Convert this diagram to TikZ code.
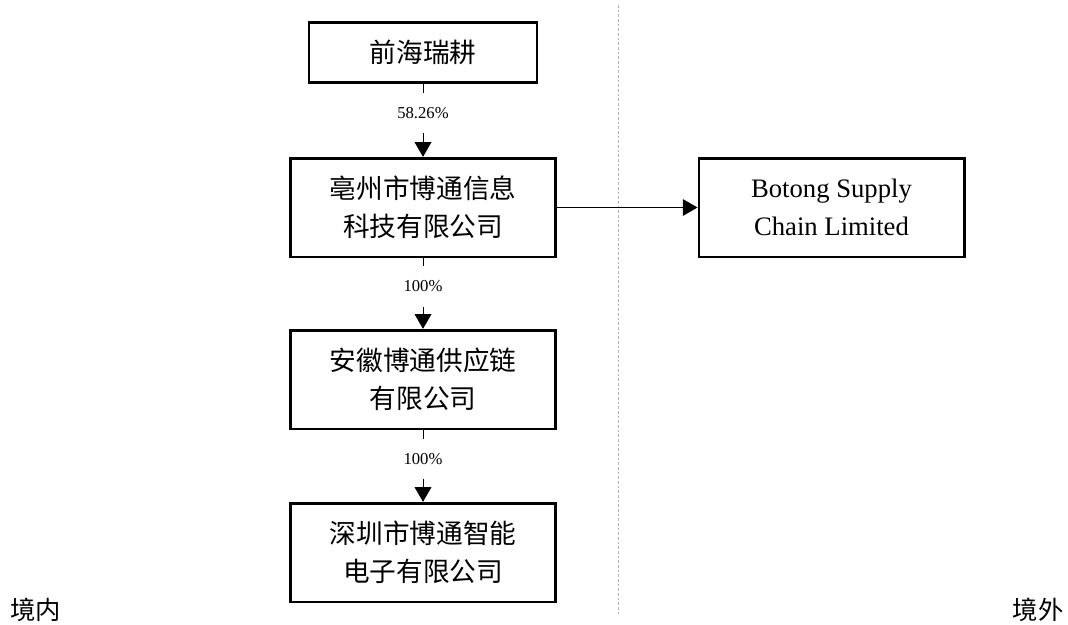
\documentclass[tikz,border=0pt]{standalone}
\usepackage{fontspec}
\setmainfont{Liberation Serif}
\newfontfamily\cjk{Noto Sans CJK SC}
\usetikzlibrary{positioning}
\usetikzlibrary{arrows.meta}
\tikzset{firm/.style={draw, line width=2pt, minimum width=199pt, minimum height=74pt, align=center, font=\cjk\fontsize{20}{28.5}\selectfont},
  share/.style={pos=0.4, fill=white, inner xsep=1pt, inner ysep=11pt, font=\fontsize{12.5}{14}\selectfont},
  post/.style={->, >={Triangle[width=12.5pt,length=11pt]}, line width=0.75pt}}

\begin{document}
\begin{tikzpicture}[x=0.75pt, y=-0.75pt]
  \useasboundingbox (0,0) rectangle (1068,625);

  % border line
  \draw[gray!60, line width=0.6pt, dash pattern=on 2pt off 1.5pt] (618,5) -- (618,615);

  % companies
  \node[firm, minimum width=171pt, minimum height=45pt] (qhrg) at (423,52.5) {前海瑞耕};
  \node[firm] (bzbt) at (423,207.5) {亳州市博通信息\\科技有限公司};
  \node[firm] (ahbt) at (423,379.5) {安徽博通供应链\\有限公司};
  \node[firm] (szbt) at (423,552.5) {深圳市博通智能\\电子有限公司};
  \node[firm, font=\fontsize{20}{28.5}\selectfont] (btsc) at (831.5,207.5) {Botong Supply\\Chain Limited};

  % holdings
  \draw[post] (qhrg) -- node[share] {58.26\%} (bzbt);
  \draw[post] (bzbt) -- node[share] {100\%} (ahbt);
  \draw[post] (ahbt) -- node[share] {100\%} (szbt);
  \draw[post] (bzbt) -- (btsc);

  % regions
  \node[font=\cjk\fontsize{19}{22}\selectfont] (jn) at (36,610) {境内};
  \node[font=\cjk\fontsize{19}{22}\selectfont] (jw) at (1038,610) {境外};

\end{tikzpicture}
\end{document}
